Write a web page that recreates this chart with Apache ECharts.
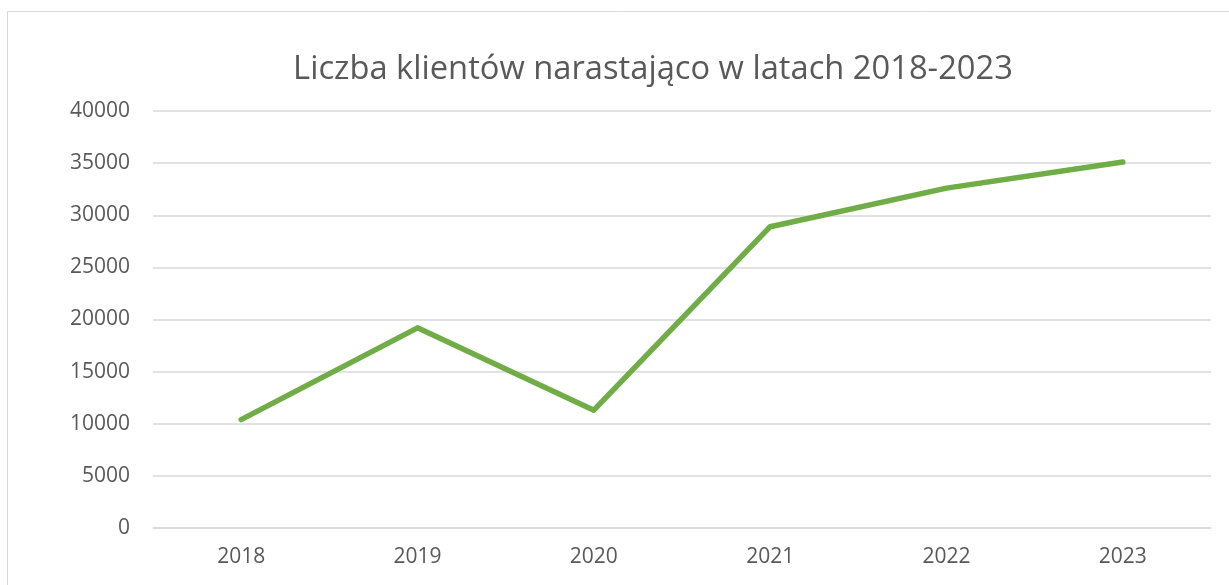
<!DOCTYPE html>
<html>
<head>
<meta charset="utf-8">
<script src="https://cdn.jsdelivr.net/npm/echarts@6/dist/echarts.min.js"></script>
<style>
  html, body { margin: 0; padding: 0; background: #fff; }
  #chart { width: 1229px; height: 585px; }
</style>
</head>
<body>
<div id="chart"></div>
<script>
// dane
var years = ['2018', '2019', '2020', '2021', '2022', '2023']
var clients = [10400, 19200, 11300, 28900, 32600, 35100]
var yTicks = [0, 5000, 10000, 15000, 20000, 25000, 30000, 35000, 40000]

var chart = echarts.init(document.getElementById('chart'))
chart.setOption({
  animation: false,
  textStyle: { fontFamily: 'Open Sans' },
  title: {
    text: 'Liczba klientów narastająco w latach 2018-2023',
    left: 648,
    top: 48,
    textAlign: 'center',
    textStyle: { fontFamily: 'Open Sans', fontSize: 32.7, fontWeight: 'normal', color: '#595959' }
  },
  // ramka wykresu
  graphic: [{
    type: 'rect',
    shape: { x: 7.5, y: 11.5, width: 1300, height: 700 },
    style: { fill: 'none', stroke: '#d9d9d9', lineWidth: 1 },
    silent: true
  }],
  grid: { left: 153, right: 18, top: 111, bottom: 57 },
  xAxis: {
    type: 'category',
    data: years,
    boundaryGap: true,
    axisLine: { show: true, lineStyle: { color: '#d9d9d9', width: 1.5 } },
    axisTick: { show: false },
    axisLabel: { color: '#595959', fontSize: 21, margin: 19 }
  },
  yAxis: {
    type: 'value',
    min: yTicks[0],
    max: yTicks[yTicks.length - 1],
    interval: yTicks[1] - yTicks[0],
    axisLine: { show: false },
    axisTick: { show: false },
    axisLabel: {
      color: '#595959',
      fontSize: 21,
      margin: 23,
      formatter: function (v) { return String(v) }
    },
    splitLine: { lineStyle: { color: '#d9d9d9', width: 1.5 } }
  },
  series: [{
    type: 'line',
    data: clients,
    symbol: 'none',
    lineStyle: { color: '#70ad47', width: 5.5, cap: 'round', join: 'round' }
  }]
})
</script>
</body>
</html>
